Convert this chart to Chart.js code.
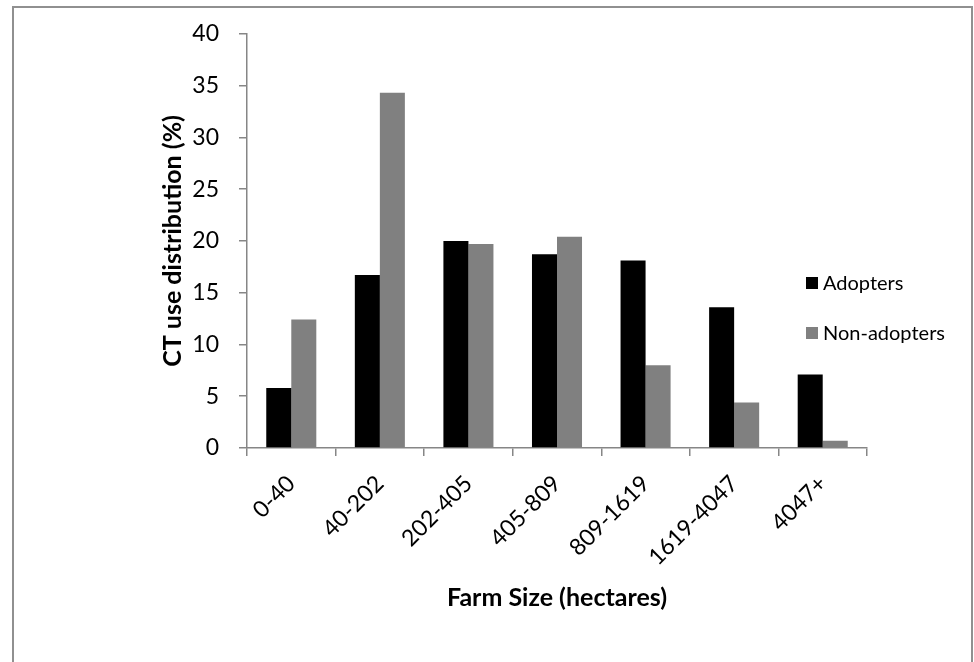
<!DOCTYPE html>
<html>
<head>
<meta charset="utf-8">
<script src="https://cdn.jsdelivr.net/npm/chart.js@4.4.1/dist/chart.umd.min.js"></script>
<style>
  html, body { margin: 0; padding: 0; background: #fff; }
  #wrap { position: relative; width: 974px; height: 662px; }
</style>
</head>
<body>
<div id="wrap"><canvas id="chart"></canvas></div>
<script>
// Farm size classes (hectares)
const categories = ['0-40', '40-202', '202-405', '405-809', '809-1619', '1619-4047', '4047+'];
// CT use distribution (%)
const adopters = [5.8, 16.7, 20.0, 18.7, 18.1, 13.6, 7.1];
const nonAdopters = [12.4, 34.3, 19.7, 20.4, 8.0, 4.4, 0.7];
const seriesNames = ['Adopters', 'Non-adopters'];

const axisGrey = '#868686';
const fontFamily = 'Lato, "Noto Sans", sans-serif';

// outer chart frame like the Excel chart area border
const framePlugin = {
    id: 'frame',
    beforeDraw(chart) {
        const ctx = chart.ctx;
        ctx.save();
        ctx.strokeStyle = '#909090';
        ctx.lineWidth = 2;
        ctx.strokeRect(13, 7, 959, 720);
        ctx.restore();
    }
};

// simple legend to the right of the plot, Excel style
const sideLegend = {
    id: 'sideLegend',
    afterDraw(chart, args, opts) {
        const ctx = chart.ctx;
        ctx.save();
        ctx.font = '20px ' + fontFamily;
        ctx.textBaseline = 'middle';
        ctx.textAlign = 'left';
        chart.data.datasets.forEach((ds, i) => {
            const cy = opts.top + i * opts.gap;
            ctx.fillStyle = ds.backgroundColor;
            ctx.fillRect(opts.x, cy - 6, 12, 12);
            ctx.fillStyle = '#000';
            ctx.fillText(ds.label, opts.x + 17, cy + 1);
        });
        ctx.restore();
    }
};

new Chart(document.getElementById('chart'), {
    type: 'bar',
    data: {
        labels: categories,
        datasets: [{
            label: seriesNames[0],
            data: adopters,
            backgroundColor: '#000000',
            categoryPercentage: 0.565,
            barPercentage: 1.0
        }, {
            label: seriesNames[1],
            data: nonAdopters,
            backgroundColor: '#808080',
            categoryPercentage: 0.565,
            barPercentage: 1.0
        }]
    },
    options: {
        responsive: true,
        maintainAspectRatio: false,
        animation: false,
        layout: {
            padding: { left: 154, right: 107, top: 24, bottom: 45 }
        },
        plugins: {
            legend: { display: false },
            tooltip: { enabled: false },
            sideLegend: { x: 806, top: 283, gap: 50 }
        },
        scales: {
            x: {
                grid: {
                    drawOnChartArea: false,
                    tickLength: 8,
                    color: axisGrey,
                    lineWidth: 1.5
                },
                border: { color: axisGrey, width: 1.5 },
                ticks: {
                    minRotation: 45,
                    maxRotation: 45,
                    padding: 14,
                    color: '#000',
                    font: { family: fontFamily, size: 23 }
                },
                title: {
                    display: true,
                    text: 'Farm Size (hectares)',
                    color: '#000',
                    font: { family: fontFamily, size: 25, weight: 'bold' }
                },
                afterFit(scale) { scale.height = 169; }
            },
            y: {
                min: 0,
                max: 40,
                ticks: {
                    stepSize: 5,
                    padding: 20,
                    color: '#000',
                    font: { family: fontFamily, size: 23 }
                },
                grid: {
                    drawOnChartArea: false,
                    tickLength: 8,
                    color: axisGrey,
                    lineWidth: 1.5
                },
                border: { color: axisGrey, width: 1.5 },
                title: {
                    display: true,
                    text: 'CT use distribution (%)',
                    color: '#000',
                    font: { family: fontFamily, size: 25, weight: 'bold' }
                },
                afterFit(scale) { scale.width = 93; }
            }
        }
    },
    plugins: [framePlugin, sideLegend]
});
</script>
</body>
</html>
